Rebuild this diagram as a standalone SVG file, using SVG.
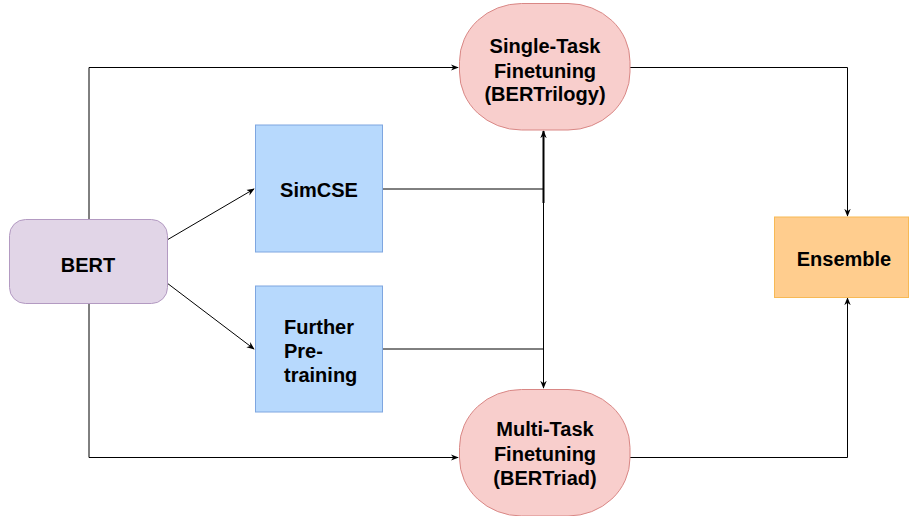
<svg xmlns="http://www.w3.org/2000/svg" width="909" height="516" viewBox="0 0 909 516">
<defs>
<marker id="arr" viewBox="0 0 10 10" refX="9" refY="5" markerWidth="8" markerHeight="8" markerUnits="userSpaceOnUse" orient="auto">
<path d="M0,1 L10,5 L0,9 L3,5 Z" fill="#000"/>
</marker>
<style>
text{font-family:"Liberation Sans",Arial,sans-serif;font-weight:bold;font-size:20px;fill:#000}
.c{fill:none;stroke:#000;stroke-width:1}
.g{fill:none;stroke:#000;stroke-width:1}
</style>
</defs>
<rect width="909" height="516" fill="#fff"/>
<g id="connectors">
<polyline class="c" points="89,219 89,67.5 458,67.5" marker-end="url(#arr)"/>
<polyline class="c" points="89,303 89,457.5 458,457.5" marker-end="url(#arr)"/>
<line class="c" x1="167" y1="240" x2="254" y2="189" marker-end="url(#arr)"/>
<line class="c" x1="167" y1="283" x2="254" y2="349" marker-end="url(#arr)"/>
<polyline class="g" points="383,189 543.5,189"/>
<polyline class="g" points="383,349 543.5,349"/>
<line x1="543.5" y1="203" x2="543.5" y2="131" stroke="#000" stroke-width="2" marker-end="url(#arr)"/>
<polyline class="g" points="543.5,203 543.5,388" marker-end="url(#arr)"/>
<polyline class="c" points="630,67.5 847.5,67.5 847.5,216" marker-end="url(#arr)"/>
<polyline class="c" points="630,457.5 847.5,457.5 847.5,298" marker-end="url(#arr)"/>
</g>
<g id="bert">
<rect x="9.5" y="219.5" width="158" height="84" rx="16" ry="16" fill="#e1d5e7" stroke="#b39ac2"/>
<text x="88" y="272" text-anchor="middle">BERT</text>
</g>
<g id="simcse">
<rect x="255.5" y="125" width="127" height="127" fill="#b7d9fd" stroke="#7ea6e0"/>
<text x="319" y="197" text-anchor="middle">SimCSE</text>
</g>
<g id="further">
<rect x="255.5" y="286" width="127" height="126" fill="#b7d9fd" stroke="#7ea6e0"/>
<text x="284" y="334">Further</text>
<text x="284" y="358">Pre-</text>
<text x="284" y="382">training</text>
</g>
<g id="single">
<rect x="459.5" y="3.5" width="170.5" height="126.5" rx="62" ry="58" fill="#f8cecc" stroke="#d98785"/>
<text x="545" y="53" text-anchor="middle">Single-Task</text>
<text x="545" y="77.5" text-anchor="middle">Finetuning</text>
<text x="545" y="101" text-anchor="middle">(BERTrilogy)</text>
</g>
<g id="multi">
<rect x="459.5" y="389.5" width="170.5" height="126.5" rx="62" ry="58" fill="#f8cecc" stroke="#d98785"/>
<text x="545" y="436" text-anchor="middle">Multi-Task</text>
<text x="545" y="460.5" text-anchor="middle">Finetuning</text>
<text x="545" y="485" text-anchor="middle">(BERTriad)</text>
</g>
<g id="ensemble">
<rect x="774.5" y="217" width="134" height="80.5" fill="#ffcd8e" stroke="#f7b955"/>
<text x="844" y="266" text-anchor="middle">Ensemble</text>
</g>
</svg>
